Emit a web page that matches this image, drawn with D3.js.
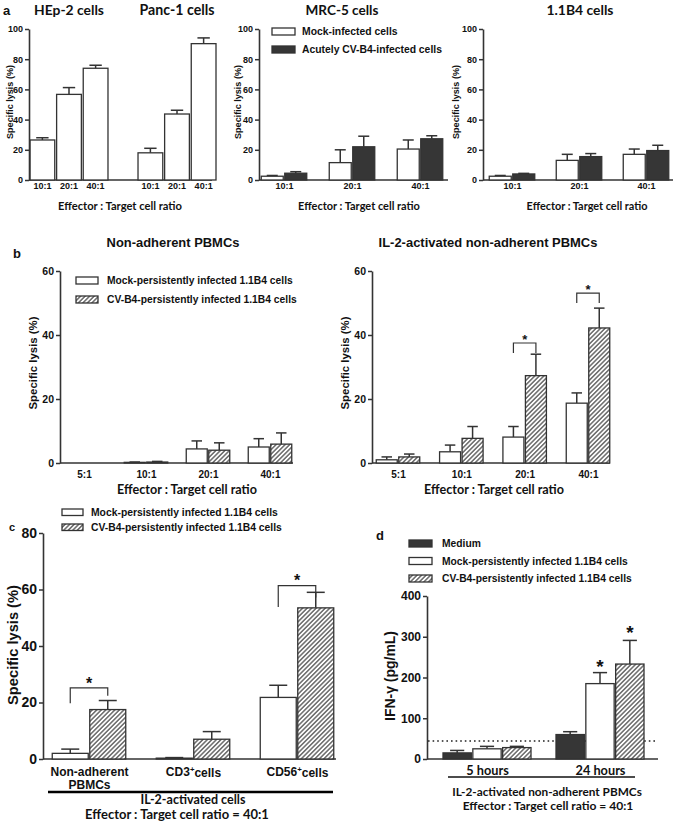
<!DOCTYPE html>
<html><head><meta charset="utf-8">
<script src="https://cdn.jsdelivr.net/npm/d3@7"></script>
<style>
body{margin:0;background:#fff}
svg{display:block}
</style></head><body>
<svg id="fig" width="677" height="821"></svg>
<script>
// ---------------- data ----------------
const ratiosA = ["10:1", "20:1", "40:1"];
const cellLinesA1 = ["HEp-2 cells", "Panc-1 cells"];
const hep2Lysis = [26.5, 56.7, 74];
const hep2Err = [1.5, 4.5, 2];
const panc1Lysis = [18, 43.7, 90.3];
const panc1Err = [3, 2.5, 3.8];
const mrc5Mock = [2.5, 11.5, 20.5];
const mrc5MockErr = [0.5, 8.5, 6];
const mrc5CV = [4.5, 22, 27.3];
const mrc5CVErr = [1, 7, 2];
const b4Mock = [2.5, 13, 17];
const b4MockErr = [0.5, 4, 3.5];
const b4CV = [4, 15.5, 19.5];
const b4CVErr = [0.4, 2, 3.5];
const legendA = ["Mock-infected cells", "Acutely CV-B4-infected cells"];
const ticksA = [0, 20, 40, 60, 80, 100];

const ratiosB = ["5:1", "10:1", "20:1", "40:1"];
const pbmcMock = [0, 0.2, 4.4, 5];
const pbmcMockErr = [0, 0.1, 2.5, 2.6];
const pbmcCV = [0, 0.3, 4, 5.9];
const pbmcCVErr = [0, 0.2, 2.3, 3.5];
const il2Mock = [1, 3.5, 8.1, 18.7];
const il2MockErr = [0.9, 2.1, 3.3, 3.2];
const il2CV = [1.9, 7.7, 27.3, 42.2];
const il2CVErr = [0.9, 3.7, 6.7, 6.2];
// significance brackets: [category, bracket top, left leg end, right leg end]
const il2Sig = [["20:1", 37.5, 34.4, 34.4], ["40:1", 53.1, 50, 50]];
const legendPersist = ["Mock-persistently infected 1.1B4 cells", "CV-B4-persistently infected 1.1B4 cells"];
const ticksB = [0, 20, 40, 60];

const cellsC = ["Non-adherent PBMCs", "CD3+ cells", "CD56+ cells"];
const cMock = [2, 0.3, 21.8];
const cMockErr = [1.5, 0.2, 4.3];
const cCV = [17.5, 7, 53.5];
const cCVErr = [3.2, 2.7, 5.5];
const cSig = [["Non-adherent PBMCs", 25.2, 19.7, 22.4], ["CD56+ cells", 61.4, 53.8, 57.2]];
const ticksC = [0, 20, 40, 60, 80];

const timesD = ["5 hours", "24 hours"];
const groupsD = ["Medium", "Mock-persistently infected 1.1B4 cells", "CV-B4-persistently infected 1.1B4 cells"];
const dMedium = [15, 60];
const dMediumErr = [6, 7];
const dMock = [25, 185];
const dMockErr = [6, 27];
const dCV = [28, 233];
const dCVErr = [3, 58];
const dStars = [[1, 1, 236], [1, 2, 320]]; // [time index, group index, value]
const dThreshold = 44;
const ticksD = [0, 100, 200, 300, 400];

// ---------------- style ----------------
const ARIAL = "'Liberation Sans', Arial, sans-serif";
const CAL = "Lato, 'Open Sans', sans-serif";
const INK = "#333";
const FILL = {white: "#fff", dark: "#363636", hatch: "url(#hatch)"};

const svg = d3.select("#fig");
svg.append("rect").attr("width", 677).attr("height", 821).attr("fill", "#fff");
const defs = svg.append("defs");
const pat = defs.append("pattern").attr("id", "hatch").attr("patternUnits", "userSpaceOnUse")
  .attr("width", 3.2).attr("height", 3.2).attr("patternTransform", "rotate(45)");
pat.append("rect").attr("width", 3.2).attr("height", 3.2).attr("fill", "#fff");
pat.append("line").attr("x1", 0.8).attr("y1", -1).attr("x2", 0.8).attr("y2", 5).attr("stroke", "#333").attr("stroke-width", 1.1);

// scale font so text spans the target width
function fit(sel, w) {
  if (!w) return sel;
  const l = sel.node().getComputedTextLength();
  if (l > 0) sel.attr("font-size", (+sel.attr("font-size")) * w / l);
  return sel;
}
function txt(g, x, y, s, size, opts = {}) {
  const t = g.append("text").attr("x", x).attr("y", y).text(s)
    .attr("font-family", opts.font || ARIAL).attr("font-weight", "bold")
    .attr("font-size", size).attr("fill", opts.fill || "#111")
    .attr("text-anchor", opts.anchor || "start");
  return fit(t, opts.w);
}
function vtxt(g, x, y, s, size, w, font) {
  const t = g.append("text").attr("transform", `translate(${x},${y}) rotate(-90)`).text(s)
    .attr("font-family", font || ARIAL).attr("font-weight", "bold").attr("font-size", size)
    .attr("fill", "#111").attr("text-anchor", "middle").attr("dominant-baseline", "central");
  return fit(t, w);
}
function yAxis(g, y, x, ticks, size) {
  const a = g.append("g").attr("transform", `translate(${x},0)`)
    .call(d3.axisLeft(y).tickValues(ticks).tickSize(4).tickPadding(2).tickSizeOuter(0));
  a.select(".domain").attr("stroke", INK).attr("stroke-width", 1.6);
  a.selectAll(".tick line").attr("stroke", INK).attr("stroke-width", 1.5);
  a.selectAll(".tick text").attr("font-family", ARIAL).attr("font-weight", "bold")
    .attr("font-size", size).attr("fill", "#111");
  return a;
}
function xAxis(g, xs, y0, pad, size, font) {
  const a = g.append("g").attr("transform", `translate(0,${y0})`)
    .call(d3.axisBottom(xs).tickSize(0).tickPadding(pad));
  a.select(".domain").remove();
  a.selectAll(".tick text").attr("font-family", font || ARIAL).attr("font-weight", "bold")
    .attr("font-size", size).attr("fill", "#111");
  return a;
}
function baseline(g, x1, x2, y) {
  g.append("line").attr("x1", x1).attr("x2", x2).attr("y1", y).attr("y2", y)
    .attr("stroke", INK).attr("stroke-width", 1.6);
}
// draw one series of bars; xPos(category) gives left edge
function bars(g, cats, vals, errs, xPos, bw, y, fill) {
  const d = cats.map((c, i) => ({c, v: vals[i], e: errs[i]}));
  const gg = g.append("g");
  gg.selectAll("line.err").data(d.filter(o => o.e > 0)).join("line").attr("class", "err")
    .attr("x1", o => xPos(o.c) + bw / 2).attr("x2", o => xPos(o.c) + bw / 2)
    .attr("y1", o => y(o.v)).attr("y2", o => y(o.v + o.e))
    .attr("stroke", INK).attr("stroke-width", 1.5);
  gg.selectAll("line.cap").data(d.filter(o => o.e > 0)).join("line").attr("class", "cap")
    .attr("x1", o => xPos(o.c) + bw * 0.25).attr("x2", o => xPos(o.c) + bw * 0.75)
    .attr("y1", o => y(o.v + o.e)).attr("y2", o => y(o.v + o.e))
    .attr("stroke", INK).attr("stroke-width", 1.5);
  gg.selectAll("rect").data(d.filter(o => o.v > 0)).join("rect")
    .attr("x", o => xPos(o.c)).attr("y", o => y(o.v))
    .attr("width", bw).attr("height", o => y(0) - y(o.v))
    .attr("fill", fill).attr("stroke", INK).attr("stroke-width", 1.3);
}
function legend(g, x, ys, labels, fills, bw, bh, size, textX, refWidth) {
  // one common font size, fitted so the longest label spans refWidth
  const ts = labels.map((l, i) => {
    g.append("rect").attr("x", x).attr("y", ys[i]).attr("width", bw).attr("height", bh)
      .attr("fill", fills[i]).attr("stroke", INK).attr("stroke-width", 1.3);
    return txt(g, textX, ys[i] + bh / 2, l, size).attr("dominant-baseline", "central");
  });
  if (refWidth) {
    const maxL = d3.max(ts, t => t.node().getComputedTextLength());
    ts.forEach(t => t.attr("font-size", size * refWidth / maxL));
  }
}
function bracket(g, xl, xr, y, top, legL, legR) {
  g.append("path").attr("d", `M${xl},${y(legL)}V${y(top)}H${xr}V${y(legR)}`)
    .attr("fill", "none").attr("stroke", INK).attr("stroke-width", 1.2);
}
function star(g, x, yy, size) {
  txt(g, x, yy + size * 0.55, "*", size, {anchor: "middle"});
}

// ---------------- panel a ----------------
txt(svg, 3, 15, "a", 13);
{ // HEp-2 / Panc-1
  const g = svg.append("g");
  const y = d3.scaleLinear().domain([0, 100]).range([180, 29]);
  const outer = d3.scaleBand().domain(cellLinesA1).range([30, 216]).paddingInner(0.278);
  const inner = d3.scaleBand().domain(ratiosA).range([0, outer.bandwidth()]).paddingInner(0.07);
  baseline(g, 29, 212, y(0));
  const titleW = [70, 75];
  [[hep2Lysis, hep2Err], [panc1Lysis, panc1Err]].forEach(([v, e], k) => {
    const cl = cellLinesA1[k];
    const gx = g.append("g").attr("transform", `translate(${outer(cl)},0)`);
    bars(gx, ratiosA, v, e, c => inner(c), inner.bandwidth(), y, FILL.white);
    xAxis(gx, inner, y(0), 3, 9);
    txt(g, outer(cl) + outer.bandwidth() / 2, 15, cl, 13.5, {font: CAL, anchor: "middle", w: titleW[k]});
  });
  yAxis(g, y, 29, ticksA, 9);
  vtxt(g, 10, 102, "Specific lysis (%)", 8, 74);
  txt(g, 120, 210, "Effector : Target cell ratio", 9.5, {font: CAL, anchor: "middle", w: 124});
}
function pairPanel(opt) {
  const g = svg.append("g");
  const y = d3.scaleLinear().domain([0, opt.ymax]).range([opt.y0, opt.y1]);
  const xc = d3.scalePoint().domain(opt.cats).range(opt.centers);
  const bw = opt.bw, gap = opt.gap;
  baseline(g, opt.ax, opt.axEnd, y(0));
  bars(g, opt.cats, opt.mock, opt.mockErr, c => xc(c) - gap / 2 - bw, bw, y, FILL.white);
  bars(g, opt.cats, opt.cv, opt.cvErr, c => xc(c) + gap / 2, bw, y, opt.cvFill);
  yAxis(g, y, opt.ax, opt.ticks, opt.tickSize);
  const xa = xAxis(g, xc, y(0), opt.xpad, opt.xSize, opt.xFont);
  return {g, y, xc, xa};
}
// MRC-5
{
  const p = pairPanel({ymax: 100, y0: 180, y1: 29, cats: ratiosA, centers: [284, 420], bw: 22, gap: 1.5,
    ax: 259, axEnd: 448, mock: mrc5Mock, mockErr: mrc5MockErr, cv: mrc5CV, cvErr: mrc5CVErr,
    cvFill: FILL.dark, ticks: ticksA, tickSize: 9, xpad: 3, xSize: 9});
  txt(p.g, 342, 15, "MRC-5 cells", 13.5, {font: CAL, anchor: "middle", w: 73});
  vtxt(p.g, 238, 102, "Specific lysis (%)", 8, 74);
  txt(p.g, 359, 210, "Effector : Target cell ratio", 9.5, {font: CAL, anchor: "middle", w: 122});
  legend(p.g, 272, [28, 46], legendA, [FILL.white, FILL.dark], 23, 7, 9, 302, 140);
}
// 1.1B4
{
  const p = pairPanel({ymax: 100, y0: 180, y1: 29, cats: ratiosA, centers: [512, 646], bw: 22, gap: 1.5,
    ax: 483, axEnd: 673, mock: b4Mock, mockErr: b4MockErr, cv: b4CV, cvErr: b4CVErr,
    cvFill: FILL.dark, ticks: ticksA, tickSize: 9, xpad: 3, xSize: 9});
  txt(p.g, 580, 15, "1.1B4 cells", 13.5, {font: CAL, anchor: "middle", w: 67});
  vtxt(p.g, 456, 102, "Specific lysis (%)", 8, 74);
  txt(p.g, 587, 210, "Effector : Target cell ratio", 9.5, {font: CAL, anchor: "middle", w: 121});
}

// ---------------- panel b ----------------
txt(svg, 13, 258, "b", 13);
{
  const p = pairPanel({ymax: 60, y0: 463, y1: 271, cats: ratiosB, centers: [84, 270], bw: 21, gap: 1.5,
    ax: 60, axEnd: 293, mock: pbmcMock, mockErr: pbmcMockErr, cv: pbmcCV, cvErr: pbmcCVErr,
    cvFill: FILL.hatch, ticks: ticksB, tickSize: 10.5, xpad: 8, xSize: 10});
  txt(p.g, 173, 247, "Non-adherent PBMCs", 11.5, {anchor: "middle", w: 133});
  vtxt(p.g, 33, 363, "Specific lysis (%)", 11, 93);
  txt(p.g, 187, 494, "Effector : Target cell ratio", 11, {font: CAL, anchor: "middle", w: 140});
  legend(p.g, 76, [277, 296], legendPersist, [FILL.white, FILL.hatch], 22, 7, 8.5, 107, 190);
}
{
  const p = pairPanel({ymax: 60, y0: 463, y1: 271, cats: ratiosB, centers: [398, 588], bw: 21, gap: 1.5,
    ax: 372, axEnd: 610, mock: il2Mock, mockErr: il2MockErr, cv: il2CV, cvErr: il2CVErr,
    cvFill: FILL.hatch, ticks: ticksB, tickSize: 10.5, xpad: 8, xSize: 10});
  txt(p.g, 488, 247, "IL-2-activated non-adherent PBMCs", 11.5, {anchor: "middle", w: 219});
  vtxt(p.g, 345, 363, "Specific lysis (%)", 11, 93);
  txt(p.g, 494, 494, "Effector : Target cell ratio", 11, {font: CAL, anchor: "middle", w: 140});
  il2Sig.forEach(([c, top, l, r]) => {
    const xl = p.xc(c) - 0.75 - 10.5, xr = p.xc(c) + 0.75 + 10.5;
    bracket(p.g, xl, xr, p.y, top, l, r);
    star(p.g, (xl + xr) / 2, p.y(top) - 6, 13);
  });
}

// ---------------- panel c ----------------
txt(svg, 9, 531, "c", 11);
{
  const p = pairPanel({ymax: 80, y0: 759, y1: 533, cats: cellsC, centers: [89, 297], bw: 36, gap: 1.5,
    ax: 43, axEnd: 336, mock: cMock, mockErr: cMockErr, cv: cCV, cvErr: cCVErr,
    cvFill: FILL.hatch, ticks: ticksC, tickSize: 14, xpad: 8, xSize: 12});
  // custom tick labels (line break and superscripts)
  p.xa.selectAll(".tick text").each(function (d) {
    const t = d3.select(this).text("");
    if (d === "Non-adherent PBMCs") {
      t.append("tspan").attr("x", 0).text("Non-adherent");
      t.append("tspan").attr("x", 0).attr("dy", "1.1em").text("PBMCs");
    } else {
      const [m, rest] = d.split("+");
      t.append("tspan").text(m);
      t.append("tspan").attr("dy", "-0.45em").attr("font-size", "0.65em").text("+");
      t.append("tspan").attr("dy", "0.45em").text(rest.trim());
    }
  });
  vtxt(p.g, 13, 645, "Specific lysis (%)", 13.5, 120);
  legend(p.g, 62, [509, 524], legendPersist, [FILL.white, FILL.hatch], 21, 6.5, 8.5, 91, 191);
  p.g.append("line").attr("x1", 48).attr("x2", 333).attr("y1", 792).attr("y2", 792)
    .attr("stroke", "#000").attr("stroke-width", 2.5);
  txt(p.g, 193, 804, "IL-2-activated cells", 11, {font: CAL, anchor: "middle", w: 105});
  txt(p.g, 177, 819, "Effector : Target cell ratio = 40:1", 11, {font: CAL, anchor: "middle", w: 184});
  cSig.forEach(([c, top, l, r]) => {
    const xl = p.xc(c) - 0.75 - 18, xr = p.xc(c) + 0.75 + 18;
    bracket(p.g, xl, xr, p.y, top, l, r);
    star(p.g, (xl + xr) / 2, p.y(top) - 8, 16);
  });
}

// ---------------- panel d ----------------
txt(svg, 376, 540, "d", 13);
{
  const g = svg.append("g");
  const y = d3.scaleLinear().domain([0, 400]).range([759, 596]);
  const xc = d3.scalePoint().domain(timesD).range([487, 600]);
  const inner = d3.scaleBand().domain(groupsD).range([-44, 44]).paddingInner(0.05);
  const bw = inner.bandwidth();
  // dotted threshold
  g.append("line").attr("x1", 428).attr("x2", 658).attr("y1", y(dThreshold)).attr("y2", y(dThreshold))
    .attr("stroke", "#222").attr("stroke-width", 1.6).attr("stroke-dasharray", "1.6,3");
  baseline(g, 427, 658, y(0));
  const series = [[dMedium, dMediumErr, FILL.dark], [dMock, dMockErr, FILL.white], [dCV, dCVErr, FILL.hatch]];
  series.forEach(([v, e, f], k) => bars(g, timesD, v, e, c => xc(c) + inner(groupsD[k]), bw, y, f));
  yAxis(g, y, 427, ticksD, 12);
  const xa = xAxis(g, xc, y(0), 7, 11.5, CAL);
  // common size fitted to the "24 hours" label width
  const tNodes = xa.selectAll(".tick text");
  const l24 = tNodes.nodes()[1].getComputedTextLength();
  tNodes.attr("font-size", 11.5 * 50 / l24);
  vtxt(g, 390, 676, "IFN-γ (pg/mL)", 13, 90);
  legend(g, 409, [540, 557.5, 575], groupsD, [FILL.dark, FILL.white, FILL.hatch], 23, 7, 8.5, 442, 190);
  dStars.forEach(([ti, gi, v]) => star(g, xc(timesD[ti]) + inner(groupsD[gi]) + bw / 2, y(v), 19));
  g.append("line").attr("x1", 448).attr("x2", 635).attr("y1", 777).attr("y2", 777)
    .attr("stroke", "#111").attr("stroke-width", 1.5);
  txt(g, 547, 796, "IL-2-activated non-adherent PBMCs", 11, {font: CAL, anchor: "middle", w: 190});
  txt(g, 548, 810, "Effector : Target cell ratio = 40:1", 10.5, {font: CAL, anchor: "middle", w: 171});
}
</script>
</body></html>
